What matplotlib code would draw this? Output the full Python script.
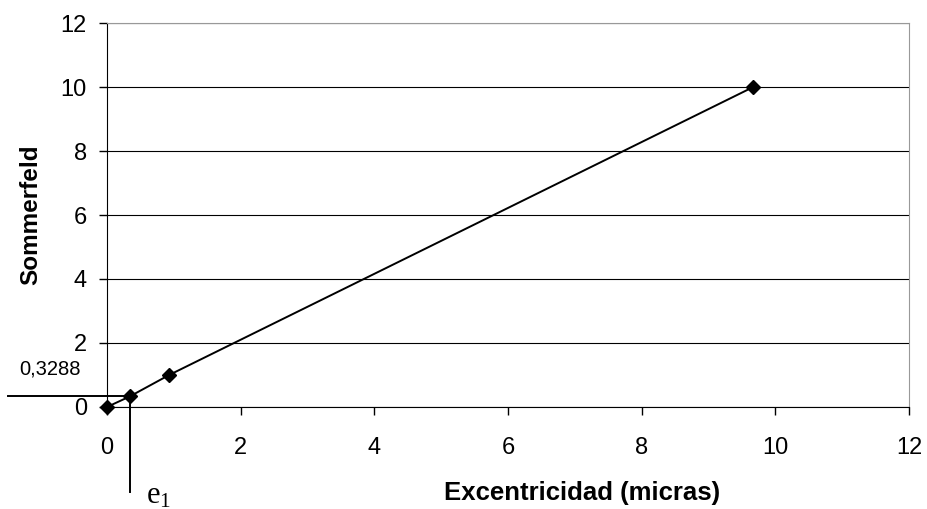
import matplotlib
matplotlib.use('Agg')
from matplotlib import pyplot as plt

plt.rcParams['font.family'] = ['Liberation Sans', 'DejaVu Sans']
plt.rcParams['mathtext.fontset'] = 'custom'
plt.rcParams['mathtext.rm'] = 'Liberation Serif'
plt.rcParams['mathtext.it'] = 'Liberation Serif:italic'

# data
excentricidad = [0, 0.34, 0.93, 9.67]
sommerfeld = [0, 0.3288, 1.0, 10.0]
s1 = 0.3288
e1 = 0.34
ticks = [0, 2, 4, 6, 8, 10, 12]

fig = plt.figure(figsize=(9.27, 5.09), dpi=100)
ax = fig.add_axes([0.1154, 0.2004, 0.8652, 0.7544])

ax.plot(excentricidad, sommerfeld, color='black', lw=1.4,
        marker='D', markersize=7, zorder=3, clip_on=False)

ax.set_xlim(0, 12)
ax.set_ylim(0, 12)
ax.set_xticks(ticks)
ax.set_yticks(ticks)
ax.tick_params(direction='out', length=6, width=1, labelsize=17)
ax.tick_params(axis='y', pad=8.5)
ax.tick_params(axis='x', pad=15.5)
ax.yaxis.grid(True, color='black', lw=0.8)
ax.set_axisbelow(True)

for side in ['top', 'right']:
    ax.spines[side].set_color('#999999')
for side in ['left', 'bottom']:
    ax.spines[side].set_color('black')

# lines marking the reading
ax.plot([-1.48, e1], [s1, s1], color='black', lw=1.4, clip_on=False)
ax.plot([e1, e1], [s1, -2.66], color='black', lw=1.4, clip_on=False)
ax.text(-1.31, 1.18, '0,3288', fontsize=14.5, ha='left', va='center')
ax.text(0.58, -2.76, r'$\mathrm{e}_{1}$', fontsize=22, ha='left', va='center')

ax.set_xlabel('Excentricidad (micras)', fontsize=18.5, fontweight='bold')
ax.xaxis.set_label_coords(0.592, -0.192)
ax.set_ylabel('Sommerfeld', fontsize=17.5, fontweight='bold')
ax.yaxis.set_label_coords(-0.081, 0.5)

plt.savefig('out.png', dpi=100)
